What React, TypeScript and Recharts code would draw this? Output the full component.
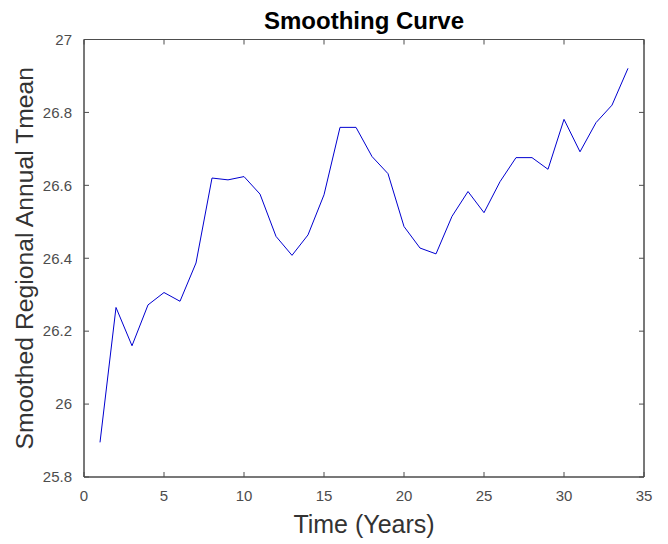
import React from 'react';
import { LineChart, Line, XAxis, YAxis, Label, ReferenceArea } from 'recharts';

const years = [1, 2, 3, 4, 5, 6, 7, 8, 9, 10, 11, 12, 13, 14, 15, 16, 17, 18, 19, 20, 21, 22, 23, 24, 25, 26, 27, 28, 29, 30, 31, 32, 33, 34];
const tmean = [
  25.895, 26.265, 26.16, 26.272, 26.306, 26.282, 26.387, 26.62, 26.615, 26.624,
  26.576, 26.46, 26.408, 26.464, 26.574, 26.759, 26.759, 26.679, 26.632, 26.487,
  26.428, 26.412, 26.515, 26.583, 26.525, 26.61, 26.676, 26.676, 26.644, 26.781,
  26.692, 26.772, 26.82, 26.921,
];
const xTicks = [0, 5, 10, 15, 20, 25, 30, 35];
const yTicks = [25.8, 26, 26.2, 26.4, 26.6, 26.8, 27];

const data = years.map((t, i) => ({ t, v: tmean[i] }));

const axisColor = '#4d4d4d';
const tickFont = { fontSize: 15, fill: '#4d4d4d' };
const fmt = (v: number) => String(Number(v.toFixed(1)));
const noLabel = () => <g />;

export default function App() {
  return (
    <div style={{ position: 'absolute', left: 0, top: 0, background: '#fff' }}>
      <LineChart
        width={668}
        height={544}
        data={data}
        margin={{ top: 0, right: 0, bottom: 0, left: 0 }}
        style={{ fontFamily: '"Liberation Sans", Arial, sans-serif' }}
      >
        <XAxis
          dataKey="t"
          type="number"
          domain={[0, 35]}
          ticks={xTicks}
          interval={0}
          height={67}
          tickSize={-5}
          tickMargin={18}
          tick={tickFont}
          tickLine={{ stroke: axisColor }}
          axisLine={{ stroke: axisColor }}
        >
          <Label value="Time (Years)" position="insideBottom" offset={11} style={{ fontSize: 25, fill: '#333' }} />
        </XAxis>
        <XAxis
          xAxisId="top"
          dataKey="t"
          orientation="top"
          type="number"
          domain={[0, 35]}
          ticks={xTicks}
          interval={0}
          height={39.5}
          tickSize={-5}
          tick={noLabel}
          tickLine={{ stroke: axisColor }}
          axisLine={{ stroke: axisColor }}
        >
          <Label value="Smoothing Curve" position="insideTop" offset={12} style={{ fontSize: 24, fontWeight: 'bold', fill: '#000' }} />
        </XAxis>
        <YAxis
          type="number"
          domain={[25.8, 27]}
          ticks={yTicks}
          interval={0}
          width={84}
          tickSize={-5}
          tickMargin={17}
          tick={tickFont}
          tickFormatter={fmt}
          tickLine={{ stroke: axisColor }}
          axisLine={{ stroke: axisColor }}
        >
          <Label
            value="Smoothed Regional Annual Tmean"
            angle={-90}
            position="insideLeft"
            offset={24.5}
            style={{ fontSize: 24.7, fill: '#333', textAnchor: 'middle' }}
          />
        </YAxis>
        <YAxis
          yAxisId="right"
          orientation="right"
          type="number"
          domain={[25.8, 27]}
          ticks={yTicks}
          interval={0}
          width={24}
          tickSize={-5}
          tick={noLabel}
          tickLine={{ stroke: axisColor }}
          axisLine={{ stroke: axisColor }}
        />
        <ReferenceArea x1={0} x2={35} y1={25.8} y2={27} fill="none" stroke={axisColor} strokeWidth={1} />
        <Line
          xAxisId="top"
          yAxisId="right"
          dataKey="v"
          type="linear"
          stroke="none"
          dot={false}
          isAnimationActive={false}
        />
        <Line
          dataKey="v"
          type="linear"
          stroke="#0000d0"
          strokeWidth={1}
          dot={false}
          isAnimationActive={false}
        />
      </LineChart>
    </div>
  );
}
